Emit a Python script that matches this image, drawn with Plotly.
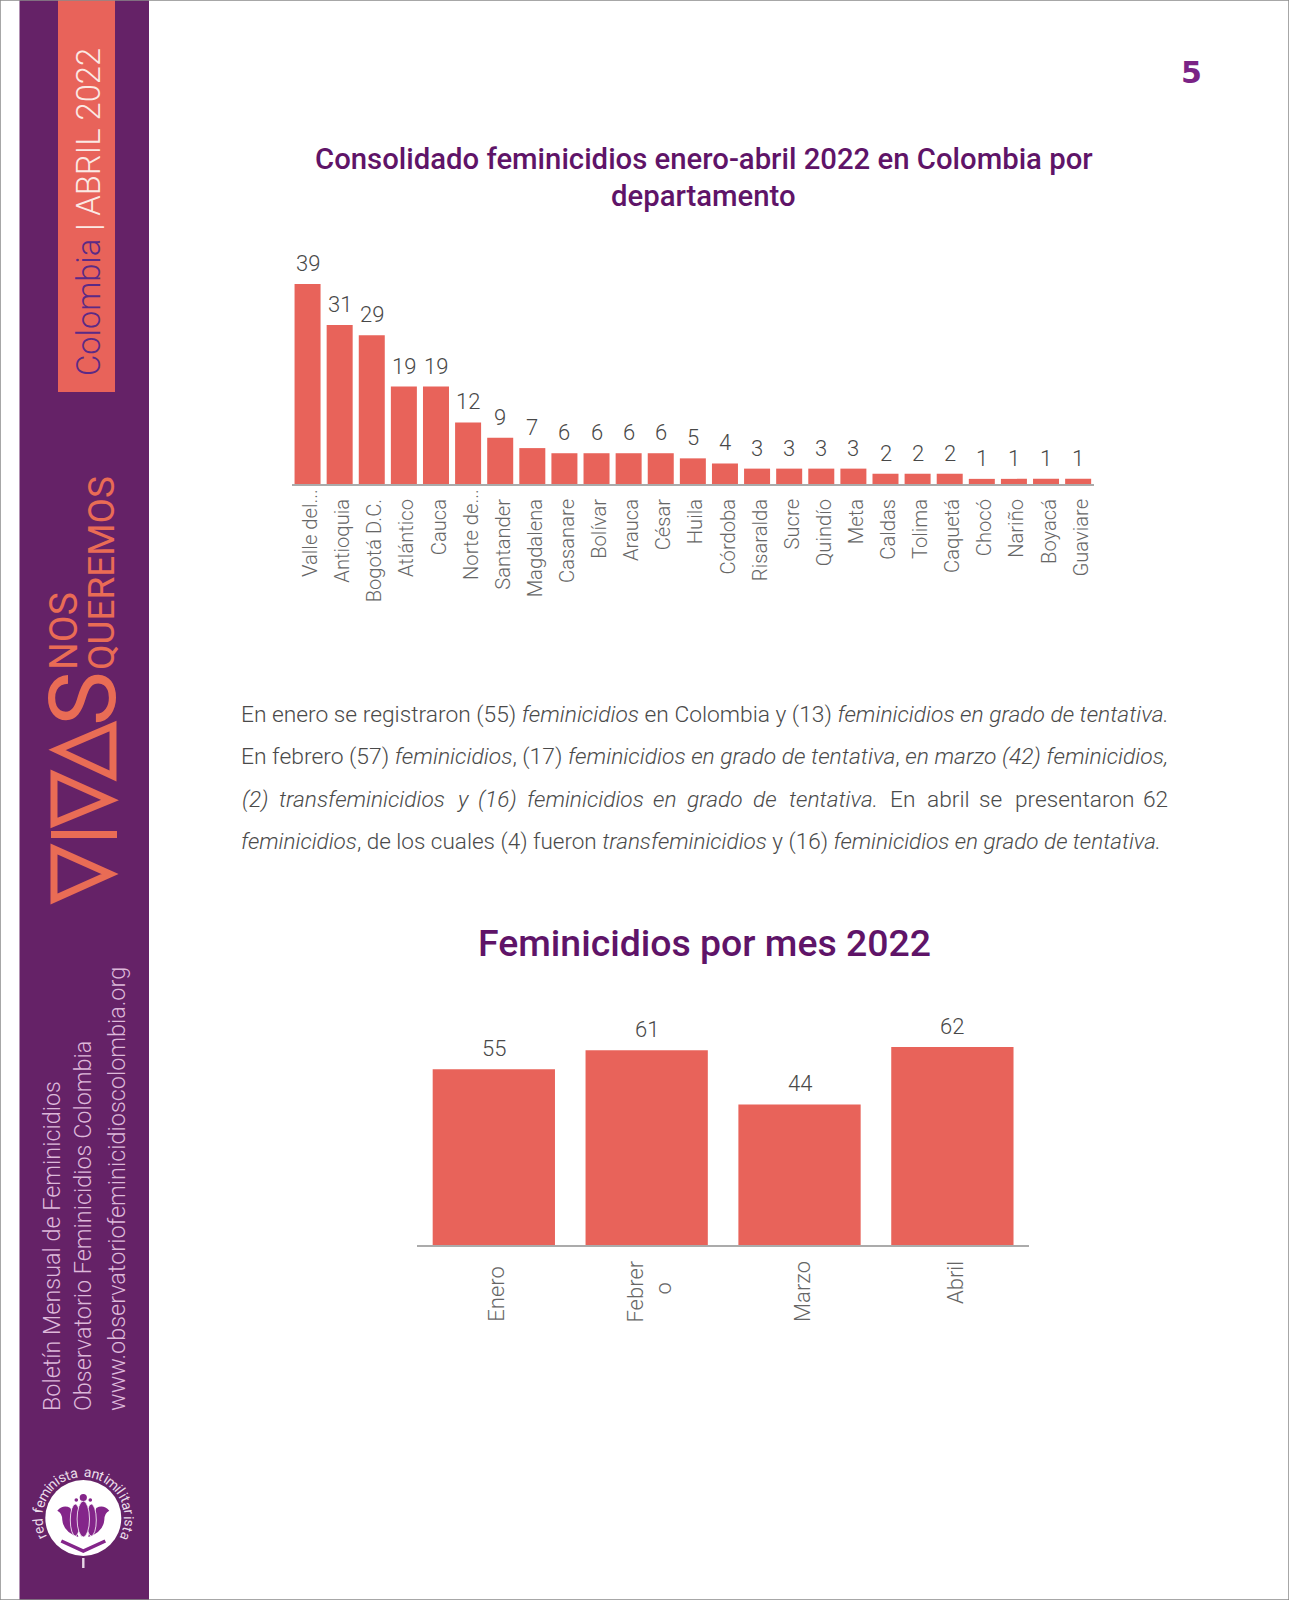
import math
import plotly.graph_objects as go

W, H = 1289, 1600
departamentos = ["Valle del...", "Antioquia", "Bogotá D.C.", "Atlántico", "Cauca", "Norte de...", "Santander",
                 "Magdalena", "Casanare", "Bolívar", "Arauca", "César", "Huila", "Córdoba", "Risaralda", "Sucre",
                 "Quindío", "Meta", "Caldas", "Tolima", "Caquetá", "Chocó", "Nariño", "Boyacá", "Guaviare"]
valores_dep = [39, 31, 29, 19, 19, 12, 9, 7, 6, 6, 6, 6, 5, 4, 3, 3, 3, 3, 2, 2, 2, 1, 1, 1, 1]
meses = ["Enero", "Febrero", "Marzo", "Abril"]
etiquetas_mes = ["Enero\u00a0", "Febrer<br>o\u00a0\u00a0\u00a0\u00a0", "Marzo", "Abril"]
valores_mes = [55, 61, 44, 62]

titulo_1 = "Consolidado feminicidios enero-abril 2022 en Colombia por"
titulo_1b = "departamento"
titulo_2 = "Feminicidios por mes 2022"

linea_1 = "En enero se registraron (55) <i>feminicidios</i> en Colombia y (13) <i>feminicidios en grado de tentativa.</i>"
linea_2 = "En febrero (57) <i>feminicidios</i>, (17) <i>feminicidios en grado de tentativa</i>, <i>en marzo (42) feminicidios,</i>"
linea_3 = [("<i>(2)</i>", 242), ("<i>transfeminicidios</i>", 279), ("<i>y</i>", 457), ("<i>(16)</i>", 478),
           ("<i>feminicidios</i>", 527), ("<i>en</i>", 653), ("<i>grado</i>", 687), ("<i>de</i>", 753),
           ("<i>tentativa.</i>", 789), ("En", 890), ("abril", 927), ("se", 979), ("presentaron", 1015), ("62", 1143)]
linea_4 = "<i>feminicidios</i>, de los cuales (4) fueron <i>transfeminicidios</i> y (16) <i>feminicidios en grado de tentativa.</i>"

CORAL = "#E8635A"
PURPLE = "#652267"
TITLE = "#5F1468"
FONT = "Roboto"


def px(x):
    return x / W


def py(y):
    return 1 - y / H


annotations = []
shapes = []


def txt(text, x, y, size, color, xanchor="center", yanchor="middle", angle=0, weight=None, family=FONT):
    font = dict(family=family, size=size, color=color)
    if weight:
        font["weight"] = weight
    annotations.append(dict(text=text, x=px(x), y=py(y), xref="paper", yref="paper", showarrow=False,
                            xanchor=xanchor, yanchor=yanchor, textangle=angle, font=font,
                            borderpad=0, borderwidth=0))


def rect(x0, y0, x1, y1, fill, layer="below"):
    shapes.append(dict(type="rect", xref="paper", yref="paper", x0=px(x0), x1=px(x1), y0=py(y1), y1=py(y0),
                       fillcolor=fill, line_width=0, layer=layer))


def poly(points, fill=None, line=None, width=0, close=True, layer="above"):
    d = "M " + " L ".join(f"{px(a):.5f},{py(b):.5f}" for a, b in points) + (" Z" if close else "")
    shapes.append(dict(type="path", xref="paper", yref="paper", path=d, fillcolor=fill or "rgba(0,0,0,0)",
                       line=dict(color=line or "rgba(0,0,0,0)", width=width), layer=layer))


def petal(s, cx, fill):
    # side petal of the logo, s = -1 left, +1 right
    p = lambda a, b: f"{px(cx + s * a):.5f},{py(b):.5f}"
    d = (f"M {p(26, 1510.7)} Q {p(20, 1504)} {p(13, 1508)} Q {p(8, 1520)} {p(5, 1537)} "
         f"Q {p(20, 1532)} {p(21, 1520)} Q {p(21, 1513)} {p(26, 1510.7)} Z")
    shapes.append(dict(type="path", xref="paper", yref="paper", path=d, fillcolor=fill, line_width=0, layer="above"))


def ell(cx, cy, rx, ry, fill, line=None):
    shapes.append(dict(type="circle", xref="paper", yref="paper", x0=px(cx - rx), x1=px(cx + rx), y0=py(cy + ry),
                       y1=py(cy - ry), fillcolor=fill, line=dict(color=line or fill, width=0.8 if line else 0),
                       layer="above"))


# Page furniture
rect(19.5, 0, 149, H, PURPLE)
rect(58, 0, 115, 392, CORAL)
shapes.append(dict(type="rect", xref="paper", yref="paper", x0=0, x1=1, y0=0, y1=1,
                   line=dict(color="#8a8a8a", width=1.5), fillcolor="rgba(0,0,0,0)", layer="above"))

txt('<span style="color:#5B2A86">Colombia</span> | ABRIL 2022', 89, 376, 32.7, "#FBE9E4", yanchor="bottom",
    angle=-90, weight=300)

# VIVAS wordmark
OR = "#E96C55"
poly([(54, 849), (54, 899), (110, 874)], line=OR, width=7)
rect(51, 831, 117, 838, OR, layer="above")
poly([(54, 775), (54, 823), (110, 800)], line=OR, width=7)
poly([(113, 726), (113, 776), (57, 750)], line=OR, width=7)
txt("S", 83, 699, 92, OR, angle=-90, weight=400)
txt("NOS", 64, 670, 39, OR, yanchor="bottom", angle=-90, weight=400)
txt("QUEREMOS", 102, 670, 37, OR, yanchor="bottom", angle=-90, weight=400)

PINK = "#DDB8DA"
txt("Boletín Mensual de Feminicidios", 52, 1411, 23.4, PINK, yanchor="bottom", angle=-90, weight=300)
txt("Observatorio Feminicidios Colombia", 83, 1411, 23.4, PINK, yanchor="bottom", angle=-90, weight=300)
txt("www.observatoriofeminicidioscolombia.org", 117, 1411, 23.4, PINK, yanchor="bottom", angle=-90, weight=300)

# Logo
cx, cy, LP = 83.3, 1518, "#84258A"
ell(cx, cy, 38, 38, "#FFFFFF")
for s in (-1, 1):
    petal(s, cx, LP)
    ell(cx + s * 8, 1520, 5, 16, LP, "#FFFFFF")
    ell(cx + s * 7, 1500, 1.8, 1.8, LP)
ell(cx, 1519, 6.2, 18, LP, "#FFFFFF")
ell(cx, 1497.5, 3.6, 3.6, LP)
poly([(cx - 22, 1541), (cx, 1551), (cx + 22, 1541)], line=LP, width=3.5, close=False)
rect(cx - 1.2, 1558, cx + 1.2, 1568, "#E8D8E8", layer="above")
logo_text = "red feminista antimilitarista"
narrow = {"i": 0.55, "l": 0.55, "t": 0.7, "r": 0.8, "f": 0.7, " ": 0.8, "m": 1.5}
span = sum(narrow.get(c, 1) for c in logo_text)
pos = 0.0
for ch in logo_text:
    w = narrow.get(ch, 1)
    if ch != " ":
        a = -118 + 236 * (pos + w / 2) / span
        r = 46
        txt(ch, cx + r * math.sin(math.radians(a)), cy - r * math.cos(math.radians(a)), 14, "#EADCE9", angle=a)
    pos += w

# Headings and paragraph
txt("5", 1191, 72, 30, "#7A2385", weight=900, family="DejaVu Sans")
txt(titulo_1, 703.5, 159, 29.3, TITLE, weight=500)
txt(titulo_1b, 703.5, 196, 29.3, TITLE, weight=500)
txt(titulo_2, 704, 943, 37.4, TITLE, weight=500)
BODY = "#4A4A4A"
SIZE = 22.7
txt(linea_1, 241, 714.5, 22.78, BODY, xanchor="left", weight=300)
txt(linea_2, 241, 756.5, 22.85, BODY, xanchor="left", weight=300)
for word, xpos in linea_3:
    txt(word, xpos, 799, SIZE, BODY, xanchor="left", weight=300)
txt(linea_4, 241, 841, 22.5, BODY, xanchor="left", weight=300)

# Charts: pixel frames
F1 = dict(x0=291.5, x1=1094.2, y0=250, y1=484)
F2 = dict(x0=417.4, x1=1028.8, y0=1000, y1=1245)
y1_top = (F1["y1"] - F1["y0"]) / (200 / 39)
y2_top = (F2["y1"] - F2["y0"]) / (198 / 62)

tick_dep = [d if d.endswith("...") else d + "\u00a0\u00a0" for d in departamentos]

fig = go.Figure()
fig.add_trace(go.Bar(x=departamentos, y=valores_dep, xaxis="x", yaxis="y", marker_color=CORAL,
                     marker_line_width=0, showlegend=False))
fig.add_trace(go.Bar(x=meses, y=valores_mes, xaxis="x2", yaxis="y2", marker_color=CORAL,
                     marker_line_width=0, showlegend=False, width=0.8))

for d, v in zip(departamentos, valores_dep):
    annotations.append(dict(text=str(v), x=d, y=v, xref="x", yref="y", showarrow=False, yanchor="bottom", yshift=6,
                            font=dict(family=FONT, size=22, color="#484848", weight=300)))
for m, v in zip(meses, valores_mes):
    annotations.append(dict(text=str(v), x=m, y=v, xref="x2", yref="y2", showarrow=False, yanchor="bottom", yshift=6,
                            font=dict(family=FONT, size=22, color="#484848", weight=300)))

axis_common = dict(showgrid=False, zeroline=False, showline=True, linecolor="#ABABAB", linewidth=2,
                   ticks="", tickangle=-90, type="category", fixedrange=True, tickmode="array", ticklabelshift=3)
fig.update_layout(
    width=W, height=H, margin=dict(l=0, r=0, t=0, b=0), paper_bgcolor="white", plot_bgcolor="rgba(0,0,0,0)",
    bargap=0.19, showlegend=False, font=dict(family=FONT),
    xaxis=dict(domain=[px(F1["x0"]), px(F1["x1"])], anchor="y", tickvals=departamentos,
               ticktext=tick_dep, tickfont=dict(size=20.2, color="#666666", weight=300), ticklabelstandoff=-5,
               **axis_common),
    yaxis=dict(domain=[py(F1["y1"]), py(F1["y0"])], range=[0, y1_top], visible=False, anchor="x"),
    xaxis2=dict(domain=[px(F2["x0"]), px(F2["x1"])], anchor="y2", tickvals=meses, ticktext=etiquetas_mes,
                tickfont=dict(size=22, color="#666666", weight=300), ticklabelstandoff=5, **axis_common),
    yaxis2=dict(domain=[py(F2["y1"]), py(F2["y0"])], range=[0, y2_top], visible=False, anchor="x2"),
    annotations=annotations, shapes=shapes,
)
fig.write_html("out.html", post_script="document.body.style.margin='0';", config={"displayModeBar": False})
